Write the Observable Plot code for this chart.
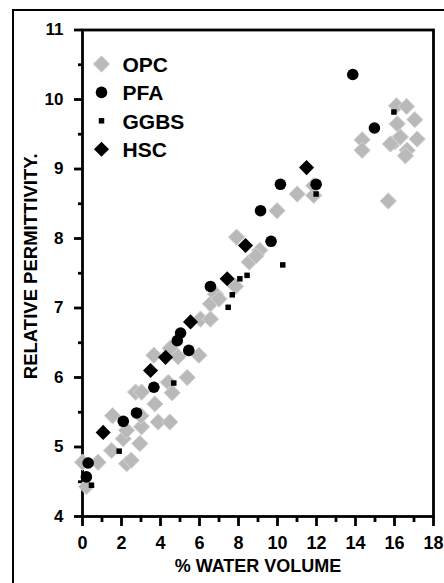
<!DOCTYPE html>
<html><head><meta charset="utf-8">
<script src="https://cdn.jsdelivr.net/npm/d3@7"></script>
<script src="https://cdn.jsdelivr.net/npm/@observablehq/plot@0.6"></script>
<style>
html,body{margin:0;padding:0;background:#fff;overflow:hidden;width:444px;height:583px;}
#wrap{position:relative;width:444px;height:583px;overflow:hidden;}
#border{position:absolute;left:12px;top:9px;width:600px;height:800px;border-left:2px solid #000;border-top:2px solid #000;}
#chart{position:absolute;left:0;top:0;}
</style></head><body><div id="wrap"><div id="border"></div><div id="chart"></div></div>
<script>
// OPC (grey diamonds)
const opcX = [0.0, 0.2, 0.8, 1.49, 1.54, 2.26, 2.5, 2.09, 2.26, 2.94, 3.03, 3.0, 2.72, 3.03, 3.71, 3.88, 4.48, 4.4, 4.6, 3.66, 4.5, 4.9, 5.37, 5.97, 6.05, 6.56, 6.56, 6.82, 7.0, 7.85, 7.9, 8.55, 9.09, 8.9, 9.98, 11.01, 11.86, 11.86, 14.34, 14.34, 15.68, 16.1, 16.62, 17.04, 16.14, 16.02, 16.3, 17.16, 16.65, 16.56, 15.79];
const opcY = [4.78, 4.43, 4.78, 4.95, 5.45, 4.76, 4.81, 5.12, 5.24, 5.05, 5.29, 5.45, 5.79, 5.79, 5.62, 5.36, 5.36, 5.93, 5.78, 6.32, 6.42, 6.3, 6.0, 6.32, 6.84, 6.84, 7.06, 7.2, 7.13, 7.31, 8.02, 7.66, 7.83, 7.75, 8.4, 8.64, 8.62, 8.76, 9.42, 9.27, 8.54, 9.91, 9.9, 9.71, 9.65, 9.39, 9.46, 9.43, 9.27, 9.19, 9.36];
// PFA (black circles)
const pfaX = [0.29, 0.2, 2.09, 2.77, 3.66, 4.86, 5.03, 5.45, 6.56, 9.13, 9.67, 10.15, 11.98, 13.86, 14.97];
const pfaY = [4.77, 4.57, 5.37, 5.49, 5.86, 6.53, 6.64, 6.39, 7.31, 8.4, 7.96, 8.78, 8.78, 10.36, 9.59];
// GGBS (small black squares)
const ggbsX = [0.46, 1.88, 4.68, 7.47, 7.68, 8.07, 8.44, 10.27, 11.98, 15.97];
const ggbsY = [4.45, 4.94, 5.92, 7.01, 7.19, 7.42, 7.47, 7.62, 8.64, 9.82];
// HSC (black diamonds)
const hscX = [1.06, 3.49, 4.26, 5.54, 7.42, 8.36, 11.49];
const hscY = [5.21, 6.1, 6.29, 6.8, 7.42, 7.9, 9.02];

const legendLabels = ["OPC", "PFA", "GGBS", "HSC"];
const xTicks = [0, 2, 4, 6, 8, 10, 12, 14, 16, 18];
const xMinor = [1, 3, 5, 7, 9, 11, 13, 15, 17];
const yTicks = [4, 5, 6, 7, 8, 9, 10, 11];
const yMinor = [4.5, 5.5, 6.5, 7.5, 8.5, 9.5, 10.5];
const xLabel = "% WATER VOLUME";
const yLabel = "RELATIVE PERMITTIVITY.";

const styles = {
  OPC:  {symbol: "diamond2", r: 7.4, fill: "#b9b9b9", stroke: "#d6d6d6", strokeWidth: 1},
  PFA:  {symbol: "circle", r: 5.8, fill: "#000", stroke: "none"},
  GGBS: {symbol: "square", r: 3.1, fill: "#000", stroke: "none"},
  HSC:  {symbol: "diamond2", r: 6.8, fill: "#000", stroke: "none"}
};
const toRows = (xs, ys) => xs.map((x, i) => ({x, y: ys[i]}));
const data = {
  OPC: toRows(opcX, opcY),
  PFA: toRows(pfaX, pfaY),
  GGBS: toRows(ggbsX, ggbsY),
  HSC: toRows(hscX, hscY)
};
const yMin = yTicks[0];
const xMin = xTicks[0];

const font = "'Liberation Sans', Arial, Helvetica, sans-serif";
const marks = [
  // tick labels
  Plot.axisX(xTicks, {tickSize: 0, tickPadding: 20, label: null, fontSize: 18, fontWeight: "bold", tickFormat: d => String(d)}),
  Plot.axisY(yTicks, {tickSize: 0, tickPadding: 19, label: null, fontSize: 17, fontWeight: "bold", tickFormat: d => String(d)}),
  // tick marks (outward)
  Plot.ruleX(xTicks, {x: d => d, y1: yMin, y2: yMin, insetBottom: -10, stroke: "#000", strokeWidth: 2.8}),
  Plot.ruleX(xMinor, {x: d => d, y1: yMin, y2: yMin, insetBottom: -6, stroke: "#000", strokeWidth: 2.8}),
  Plot.ruleY(yTicks, {y: d => d, x1: xMin, x2: xMin, insetLeft: -8, stroke: "#000", strokeWidth: 2.8}),
  Plot.ruleY(yMinor, {y: d => d, x1: xMin, x2: xMin, insetLeft: -4, stroke: "#000", strokeWidth: 2.8}),
  Plot.frame({stroke: "#000", strokeWidth: 2.8})
];
for (const k of ["OPC", "PFA", "GGBS", "HSC"]) {
  marks.push(Plot.dot(data[k], {x: "x", y: "y", ...styles[k]}));
}
legendLabels.forEach((lab, i) => {
  marks.push(Plot.dot([lab], {frameAnchor: "top-left", dx: 19, dy: 34 + i * 28.4, ...styles[lab]}));
  marks.push(Plot.text([lab], {frameAnchor: "top-left", dx: 40, dy: 35 + i * 28.4, text: d => d, textAnchor: "start", lineAnchor: "middle", fontSize: 21, fontWeight: "bold", fill: "#000"}));
});
marks.push(Plot.text([xLabel], {frameAnchor: "bottom", dy: 50, text: d => d, textAnchor: "middle", lineAnchor: "middle", fontSize: 18, fontWeight: "bold", fill: "#000"}));
marks.push(Plot.text([yLabel], {frameAnchor: "left", dx: -51, dy: -7, rotate: -90, text: d => d, textAnchor: "middle", lineAnchor: "middle", fontSize: 18.5, fontWeight: "bold", fill: "#000"}));

const chart = Plot.plot({
  width: 444,
  height: 583,
  marginLeft: 82,
  marginRight: 11,
  marginTop: 29.5,
  marginBottom: 67,
  x: {domain: [0, 18]},
  y: {domain: [4, 11]},
  style: {fontFamily: font, fontWeight: "bold", background: "transparent", color: "#000", overflow: "visible"},
  marks
});
document.getElementById("chart").appendChild(chart);
</script>
</body></html>
